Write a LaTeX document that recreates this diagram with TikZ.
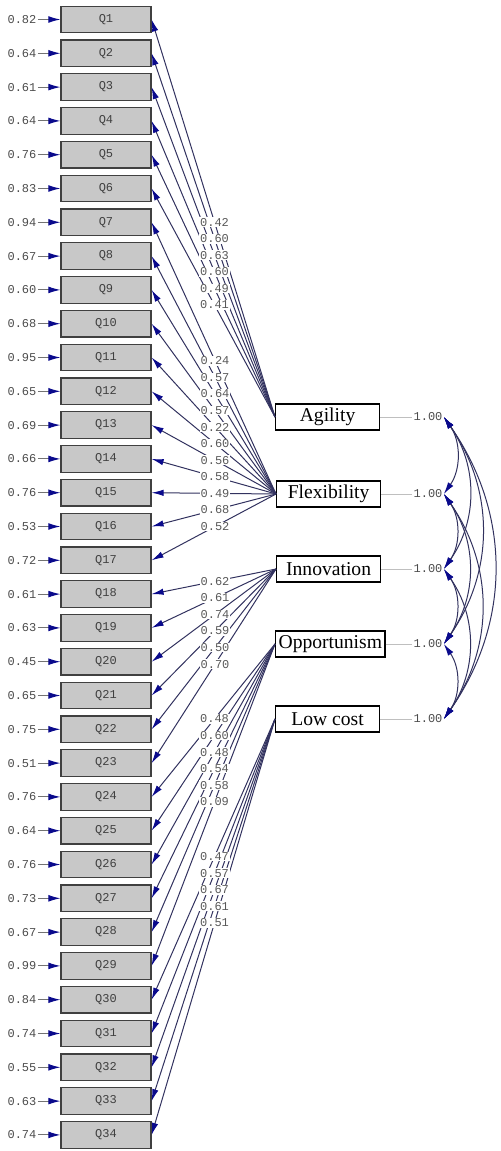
\documentclass[tikz,border=0pt]{standalone}
\usepackage{fontspec}
\setmainfont{Liberation Serif}
\setmonofont{Liberation Mono}
\usetikzlibrary{arrows.meta}
\definecolor{pathline}{RGB}{50,50,95}
\definecolor{pathtip}{RGB}{10,10,140}
\definecolor{boxgray}{RGB}{200,200,200}

\begin{document}
\begin{tikzpicture}[x=0.5pt,y=-0.5pt]
	\tikzstyle{obs}=[rectangle, minimum width=45pt, minimum height=13.25pt, inner sep=0pt, draw=black!75, semithick, fill=boxgray, text=black!75, node distance=16.9pt, font=\ttfamily\fontsize{6}{7}\selectfont]
	\tikzstyle{err}=[inner sep=0.5pt, text=black!70, node distance=42pt, font=\ttfamily\fontsize{6}{7}\selectfont]
	\tikzstyle{latent}=[rectangle, minimum width=52pt, minimum height=13pt, inner xsep=1.5pt, inner ysep=0pt, draw=black, semithick, fill=white, anchor=west, font=\fontsize{9.8}{12}\selectfont]
	\tikzstyle{var}=[inner sep=0.5pt, text=black!70, font=\ttfamily\fontsize{6}{7}\selectfont]
	\tikzstyle{coef}=[pos=0.49, inner sep=0.4pt, fill=white, text=black!65, font=\ttfamily\fontsize{6}{7}\selectfont]
	\tikzstyle{connect}=[-{Latex[length=6pt,width=3.2pt,color=pathtip]}, pathline, line width=0.5pt]
	\tikzstyle{errpath}=[-{Latex[length=6pt,width=3.4pt,color=pathtip]}, black!55, line width=0.5pt]
	\tikzstyle{varline}=[black!25, line width=0.5pt]
	\tikzstyle{cov}=[{Latex[length=6pt,width=3.2pt,color=pathtip]}-{Latex[length=6pt,width=3.2pt,color=pathtip]}, pathline, line width=0.5pt, out=-55, in=55]
	\tikzstyle{hidden}=[draw=none]
	\useasboundingbox (0,0) rectangle (501,1151);
	% observed items
	\node[obs] (q1) at (106,19.5) {Q1};
	\node[obs] (q2) [below of=q1] {Q2};
	\node[obs] (q3) [below of=q2] {Q3};
	\node[obs] (q4) [below of=q3] {Q4};
	\node[obs] (q5) [below of=q4] {Q5};
	\node[obs] (q6) [below of=q5] {Q6};
	\node[obs] (q7) [below of=q6] {Q7};
	\node[obs] (q8) [below of=q7] {Q8};
	\node[obs] (q9) [below of=q8] {Q9};
	\node[obs] (q10) [below of=q9] {Q10};
	\node[obs] (q11) [below of=q10] {Q11};
	\node[obs] (q12) [below of=q11] {Q12};
	\node[obs] (q13) [below of=q12] {Q13};
	\node[obs] (q14) [below of=q13] {Q14};
	\node[obs] (q15) [below of=q14] {Q15};
	\node[obs] (q16) [below of=q15] {Q16};
	\node[obs] (q17) [below of=q16] {Q17};
	\node[obs] (q18) [below of=q17] {Q18};
	\node[obs] (q19) [below of=q18] {Q19};
	\node[obs] (q20) [below of=q19] {Q20};
	\node[obs] (q21) [below of=q20] {Q21};
	\node[obs] (q22) [below of=q21] {Q22};
	\node[obs] (q23) [below of=q22] {Q23};
	\node[obs] (q24) [below of=q23] {Q24};
	\node[obs] (q25) [below of=q24] {Q25};
	\node[obs] (q26) [below of=q25] {Q26};
	\node[obs] (q27) [below of=q26] {Q27};
	\node[obs] (q28) [below of=q27] {Q28};
	\node[obs] (q29) [below of=q28] {Q29};
	\node[obs] (q30) [below of=q29] {Q30};
	\node[obs] (q31) [below of=q30] {Q31};
	\node[obs] (q32) [below of=q31] {Q32};
	\node[obs] (q33) [below of=q32] {Q33};
	\node[obs] (q34) [below of=q33] {Q34};
	% error variances
	\node[err] (e1) [left of=q1] {0.82};
	\node[err] (e2) [left of=q2] {0.64};
	\node[err] (e3) [left of=q3] {0.61};
	\node[err] (e4) [left of=q4] {0.64};
	\node[err] (e5) [left of=q5] {0.76};
	\node[err] (e6) [left of=q6] {0.83};
	\node[err] (e7) [left of=q7] {0.94};
	\node[err] (e8) [left of=q8] {0.67};
	\node[err] (e9) [left of=q9] {0.60};
	\node[err] (e10) [left of=q10] {0.68};
	\node[err] (e11) [left of=q11] {0.95};
	\node[err] (e12) [left of=q12] {0.65};
	\node[err] (e13) [left of=q13] {0.69};
	\node[err] (e14) [left of=q14] {0.66};
	\node[err] (e15) [left of=q15] {0.76};
	\node[err] (e16) [left of=q16] {0.53};
	\node[err] (e17) [left of=q17] {0.72};
	\node[err] (e18) [left of=q18] {0.61};
	\node[err] (e19) [left of=q19] {0.63};
	\node[err] (e20) [left of=q20] {0.45};
	\node[err] (e21) [left of=q21] {0.65};
	\node[err] (e22) [left of=q22] {0.75};
	\node[err] (e23) [left of=q23] {0.51};
	\node[err] (e24) [left of=q24] {0.76};
	\node[err] (e25) [left of=q25] {0.64};
	\node[err] (e26) [left of=q26] {0.76};
	\node[err] (e27) [left of=q27] {0.73};
	\node[err] (e28) [left of=q28] {0.67};
	\node[err] (e29) [left of=q29] {0.99};
	\node[err] (e30) [left of=q30] {0.84};
	\node[err] (e31) [left of=q31] {0.74};
	\node[err] (e32) [left of=q32] {0.55};
	\node[err] (e33) [left of=q33] {0.63};
	\node[err] (e34) [left of=q34] {0.74};
	% factors and their variances
	\node[latent] (agility) at (275,417) {Agility};
	\node[latent] (flex) at (276,494) {Flexibility};
	\node[latent] (innov) at (276,569) {Innovation};
	\node[latent] (opport) at (275,644) {Opportunism};
	\node[latent] (lowcost) at (275,719) {Low cost};
	\node[var] (v1) at (428,417) {1.00};
	\node[var] (v2) at (428,494) {1.00};
	\node[var] (v3) at (428,569) {1.00};
	\node[var] (v4) at (428,644) {1.00};
	\node[var] (v5) at (428,719) {1.00};
	\path
	  (agility.east) edge [varline] (v1.west)
	  (flex.east) edge [varline] (v2.west)
	  (innov.east) edge [varline] (v3.west)
	  (opport.east) edge [varline] (v4.west)
	  (lowcost.east) edge [varline] (v5.west);
	% error arrows
	\path
	  (e1) edge [errpath] (q1)
	  (e2) edge [errpath] (q2)
	  (e3) edge [errpath] (q3)
	  (e4) edge [errpath] (q4)
	  (e5) edge [errpath] (q5)
	  (e6) edge [errpath] (q6)
	  (e7) edge [errpath] (q7)
	  (e8) edge [errpath] (q8)
	  (e9) edge [errpath] (q9)
	  (e10) edge [errpath] (q10)
	  (e11) edge [errpath] (q11)
	  (e12) edge [errpath] (q12)
	  (e13) edge [errpath] (q13)
	  (e14) edge [errpath] (q14)
	  (e15) edge [errpath] (q15)
	  (e16) edge [errpath] (q16)
	  (e17) edge [errpath] (q17)
	  (e18) edge [errpath] (q18)
	  (e19) edge [errpath] (q19)
	  (e20) edge [errpath] (q20)
	  (e21) edge [errpath] (q21)
	  (e22) edge [errpath] (q22)
	  (e23) edge [errpath] (q23)
	  (e24) edge [errpath] (q24)
	  (e25) edge [errpath] (q25)
	  (e26) edge [errpath] (q26)
	  (e27) edge [errpath] (q27)
	  (e28) edge [errpath] (q28)
	  (e29) edge [errpath] (q29)
	  (e30) edge [errpath] (q30)
	  (e31) edge [errpath] (q31)
	  (e32) edge [errpath] (q32)
	  (e33) edge [errpath] (q33)
	  (e34) edge [errpath] (q34);
	% loadings
	\path
	  (agility.west) edge [connect] (q1.east)
	                 edge [connect] (q2.east)
	                 edge [connect] (q3.east)
	                 edge [connect] (q4.east)
	                 edge [connect] (q5.east)
	                 edge [connect] (q6.east)
	  (flex.west) edge [connect] (q7.east)
	              edge [connect] (q8.east)
	              edge [connect] (q9.east)
	              edge [connect] (q10.east)
	              edge [connect] (q11.east)
	              edge [connect] (q12.east)
	              edge [connect] (q13.east)
	              edge [connect] (q14.east)
	              edge [connect] (q15.east)
	              edge [connect] (q16.east)
	              edge [connect] (q17.east)
	  (innov.west) edge [connect] (q18.east)
	               edge [connect] (q19.east)
	               edge [connect] (q20.east)
	               edge [connect] (q21.east)
	               edge [connect] (q22.east)
	               edge [connect] (q23.east)
	  (opport.west) edge [connect] (q24.east)
	                edge [connect] (q25.east)
	                edge [connect] (q26.east)
	                edge [connect] (q27.east)
	                edge [connect] (q28.east)
	                edge [connect] (q29.east)
	  (lowcost.west) edge [connect] (q30.east)
	                 edge [connect] (q31.east)
	                 edge [connect] (q32.east)
	                 edge [connect] (q33.east)
	                 edge [connect] (q34.east);
	% loading values on top of all the lines
	\path
	  (agility.west) edge [hidden] node [coef] {0.42} (q1.east)
	                 edge [hidden] node [coef] {0.60} (q2.east)
	                 edge [hidden] node [coef] {0.63} (q3.east)
	                 edge [hidden] node [coef] {0.60} (q4.east)
	                 edge [hidden] node [coef] {0.49} (q5.east)
	                 edge [hidden] node [coef] {0.41} (q6.east)
	  (flex.west) edge [hidden] node [coef] {0.24} (q7.east)
	              edge [hidden] node [coef] {0.57} (q8.east)
	              edge [hidden] node [coef] {0.64} (q9.east)
	              edge [hidden] node [coef] {0.57} (q10.east)
	              edge [hidden] node [coef] {0.22} (q11.east)
	              edge [hidden] node [coef] {0.60} (q12.east)
	              edge [hidden] node [coef] {0.56} (q13.east)
	              edge [hidden] node [coef] {0.58} (q14.east)
	              edge [hidden] node [coef] {0.49} (q15.east)
	              edge [hidden] node [coef] {0.68} (q16.east)
	              edge [hidden] node [coef] {0.52} (q17.east)
	  (innov.west) edge [hidden] node [coef] {0.62} (q18.east)
	               edge [hidden] node [coef] {0.61} (q19.east)
	               edge [hidden] node [coef] {0.74} (q20.east)
	               edge [hidden] node [coef] {0.59} (q21.east)
	               edge [hidden] node [coef] {0.50} (q22.east)
	               edge [hidden] node [coef] {0.70} (q23.east)
	  (opport.west) edge [hidden] node [coef] {0.48} (q24.east)
	                edge [hidden] node [coef] {0.60} (q25.east)
	                edge [hidden] node [coef] {0.48} (q26.east)
	                edge [hidden] node [coef] {0.54} (q27.east)
	                edge [hidden] node [coef] {0.58} (q28.east)
	                edge [hidden] node [coef] {0.09} (q29.east)
	  (lowcost.west) edge [hidden] node [coef] {0.47} (q30.east)
	                 edge [hidden] node [coef] {0.57} (q31.east)
	                 edge [hidden] node [coef] {0.67} (q32.east)
	                 edge [hidden] node [coef] {0.61} (q33.east)
	                 edge [hidden] node [coef] {0.51} (q34.east);
	% factor covariances
	\path
	  (v1.east) edge [cov] (v2.east)
	            edge [cov] (v3.east)
	            edge [cov] (v4.east)
	            edge [cov] (v5.east)
	  (v2.east) edge [cov] (v3.east)
	            edge [cov] (v4.east)
	            edge [cov] (v5.east)
	  (v3.east) edge [cov] (v4.east)
	            edge [cov] (v5.east)
	  (v4.east) edge [cov] (v5.east);
\end{tikzpicture}
\end{document}
